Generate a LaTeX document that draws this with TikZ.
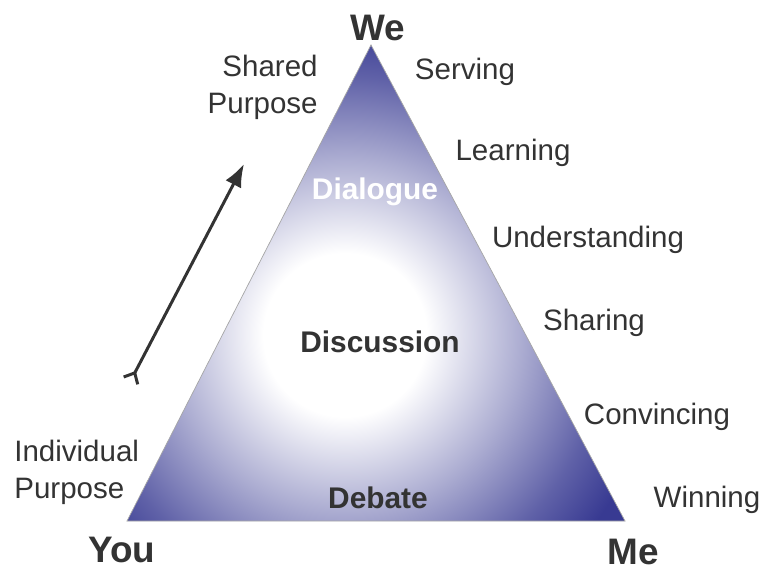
\documentclass[tikz,border=0pt]{standalone}
\usepackage{fontspec}
\setmainfont{Liberation Sans}
\usepackage{tikz}
\usetikzlibrary{arrows.meta,calc}
\definecolor{triblue}{RGB}{56,58,146}
\definecolor{txtgray}{RGB}{51,51,51}
\pgfdeclareradialshading{trishade}{\pgfpoint{0bp}{0bp}}{color(0bp)=(white); color(6bp)=(white); color(13bp)=(triblue!42); color(19bp)=(triblue!80); color(23bp)=(triblue); color(50bp)=(triblue)}

\begin{document}
\begin{tikzpicture}[x=0.02cm,y=-0.02cm,
  lbl/.style={text=txtgray,font=\fontsize{16.8}{20}\selectfont,inner sep=0pt},
  corner/.style={text=txtgray,font=\fontsize{21}{24}\selectfont\bfseries,inner sep=0pt},
  level/.style={font=\fontsize{17}{20}\selectfont\bfseries,inner sep=0pt}]
\useasboundingbox (0,0) rectangle (768,581);
% triangle
\coordinate (T) at (371,45);
\coordinate (L) at (127,521);
\coordinate (R) at (625,521);
\begin{scope}
\clip (T) -- (L) -- (R) -- cycle;
\shade[shading=trishade] (345,335) circle (340);
\end{scope}
\draw[gray!70, line width=0.4pt] (T) -- (L) -- (R) -- cycle;
% corners
\node[corner] (we) at (378,28) {We};
\node[corner] (you) at (122,550) {You};
\node[corner] (me) at (633,552) {Me};
% levels
\node[level,text=white] (dialogue) at (375,192) {Dialogue};
\node[level,text=txtgray] (discussion) at (380,342) {Discussion};
\node[level,text=txtgray] (debate) at (378,498) {Debate};
% right side
\node[lbl] (serving) at (465,72) {Serving};
\node[lbl] (learning) at (513,153) {Learning};
\node[lbl] (understanding) at (588,240) {Understanding};
\node[lbl] (sharing) at (594,323) {Sharing};
\node[lbl] (convincing) at (657,417) {Convincing};
\node[lbl] (winning) at (707,500) {Winning};
% left side
\node[lbl,align=right,anchor=east] (shared) at (318,87) {Shared\\[1pt]Purpose};
\node[lbl,align=left,anchor=west] (individual) at (14,472) {Individual\\[1pt]Purpose};
% arrow
\coordinate (a1) at (130,382);
\coordinate (a2) at (244,164);
\draw[txtgray, line width=1.7pt, {Straight Barb[reversed,length=5pt,width=9pt]}-{Latex[length=13pt,width=10pt]}] (a1) -- (a2);
\end{tikzpicture}
\end{document}
